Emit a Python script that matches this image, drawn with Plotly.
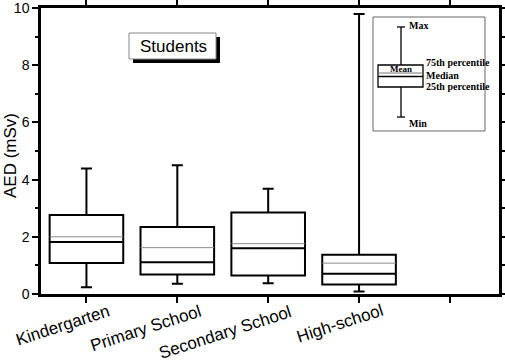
import plotly.graph_objects as go

# ---- data ----
categories = ["Kindergarten", "Primary School", "Secondary School", "High-school"]
positions = [1, 2, 3, 4]
mins = [0.24, 0.36, 0.38, 0.09]
q1s = [1.08, 0.68, 0.65, 0.33]
medians = [1.82, 1.11, 1.60, 0.71]
means = [2.00, 1.62, 1.76, 1.08]
q3s = [2.76, 2.34, 2.85, 1.37]
maxs = [4.39, 4.50, 3.68, 9.79]
y_ticks = [0, 2, 4, 6, 8, 10]

# ---- layout constants ----
BOX_W = 0.81
FONT = "Arial, Liberation Sans, sans-serif"
SERIF = "Times New Roman, Liberation Serif, serif"
# category label centre offsets (px) relative to tick / plot bottom
label_dx = [-24, -32, -43, -19]
label_dy = [-31, -34, -38, -29]

W, H = 505, 364
ML, MR, MT, MB = 41, 6, 8, 70

fig = go.Figure()
fig.add_trace(go.Box(
    x=positions, q1=q1s, median=medians, q3=q3s,
    lowerfence=mins, upperfence=maxs,
    width=BOX_W, whiskerwidth=0.15,
    line=dict(color="black", width=2), fillcolor="rgba(255,255,255,0)",
    boxpoints=False, showlegend=False, hoverinfo="skip",
))

# mean lines (thin gray)
mx, my = [], []
for p, m in zip(positions, means):
    mx += [p - BOX_W / 2, p + BOX_W / 2, None]
    my += [m, m, None]
fig.add_trace(go.Scatter(x=mx, y=my, mode="lines",
                         line=dict(color="#8a8a8a", width=1),
                         showlegend=False, hoverinfo="skip"))

# ---- helpers for decorations, in page pixels ----
pw = W - ML - MR
ph = H - MT - MB
def px(x):
    return (x - ML) / pw
def py(y):
    return (H - MB - y) / ph

shapes = []
annotations = []

# "Students" label with drop shadow
shapes.append(dict(type="rect", xref="paper", yref="paper",
                   x0=px(133), x1=px(220), y0=py(63), y1=py(37),
                   fillcolor="black", line=dict(width=0), layer="above"))
shapes.append(dict(type="rect", xref="paper", yref="paper",
                   x0=px(129), x1=px(216), y0=py(59), y1=py(33),
                   fillcolor="white", line=dict(color="#888", width=1), layer="above"))
annotations.append(dict(text="Students", xref="paper", yref="paper",
                        x=px(173), y=py(46), xanchor="center", yanchor="middle",
                        showarrow=False,
                        font=dict(family=FONT, size=17, color="black")))

# inset key
shapes.append(dict(type="rect", xref="paper", yref="paper",
                   x0=px(373), x1=px(485), y0=py(131), y1=py(17),
                   fillcolor="rgba(0,0,0,0)", line=dict(color="#666", width=1)))
def seg(x0, y0, x1, y1, color="black", w=1.3):
    shapes.append(dict(type="line", xref="paper", yref="paper",
                       x0=px(x0), x1=px(x1), y0=py(y0), y1=py(y1),
                       line=dict(color=color, width=w)))
seg(401, 27, 401, 65)
seg(401, 87, 401, 117)
seg(397, 27, 405, 27)
seg(397, 117, 405, 117)
shapes.append(dict(type="rect", xref="paper", yref="paper",
                   x0=px(378), x1=px(423), y0=py(87), y1=py(65),
                   fillcolor="rgba(0,0,0,0)", line=dict(color="black", width=1.3)))
seg(378, 73, 423, 73, color="#777", w=1)
seg(378, 76.5, 423, 76.5, color="black", w=1.3)

def key_text(t, x, y, anchor="left", size=10):
    annotations.append(dict(text="<b>%s</b>" % t, xref="paper", yref="paper",
                            x=px(x), y=py(y), xanchor=anchor, yanchor="middle",
                            showarrow=False,
                            font=dict(family=SERIF, size=size, color="black")))
key_text("Mean", 400.5, 69, anchor="center", size=9)
key_text("Max", 407, 25)
key_text("75th percentile", 424, 62)
key_text("Median", 424, 75)
key_text("25th percentile", 424, 86)
key_text("Min", 407, 123)

# rotated category labels
for p, c, dx, dy in zip(positions, categories, label_dx, label_dy):
    annotations.append(dict(text=c, x=p, xref="x", y=0, yref="paper",
                            xanchor="center", yanchor="middle", xshift=dx, yshift=dy,
                            textangle=-18, showarrow=False,
                            font=dict(family=FONT, size=17, color="black")))

# y title
annotations.append(dict(text="AED (mSv)", xref="paper", yref="paper",
                        x=px(10), y=py(156), xanchor="center", yanchor="middle",
                        textangle=-90, showarrow=False,
                        font=dict(family=FONT, size=17, color="black")))

fig.update_layout(
    width=W, height=H,
    margin=dict(l=ML, r=MR, t=MT, b=MB, pad=0, autoexpand=False),
    paper_bgcolor="white", plot_bgcolor="white",
    shapes=shapes, annotations=annotations,
    font=dict(family=FONT, color="black"),
    xaxis=dict(range=[0.5, 5.54], tickvals=[1, 2, 3, 4, 5], showticklabels=False,
               ticks="outside", ticklen=6, tickwidth=2, tickcolor="black",
               showline=True, linewidth=2.5, linecolor="black", mirror="ticks",
               showgrid=False, zeroline=False, automargin=False),
    yaxis=dict(range=[0, 10], tickvals=y_ticks, ticks="outside", ticklen=6,
               tickwidth=2, tickcolor="black", ticklabeloverflow="allow",
               minor=dict(dtick=1, ticks="outside", ticklen=3, tickwidth=2, tickcolor="black"),
               tickfont=dict(family=FONT, size=14, color="black"),
               showline=True, linewidth=2.5, linecolor="black", mirror="ticks",
               showgrid=False, zeroline=False, automargin=False),
)

# remove the default 8px page margin so the figure fills the window
fig.write_html("out.html", config={"displayModeBar": False},
               post_script="document.body.style.margin='0px';")
